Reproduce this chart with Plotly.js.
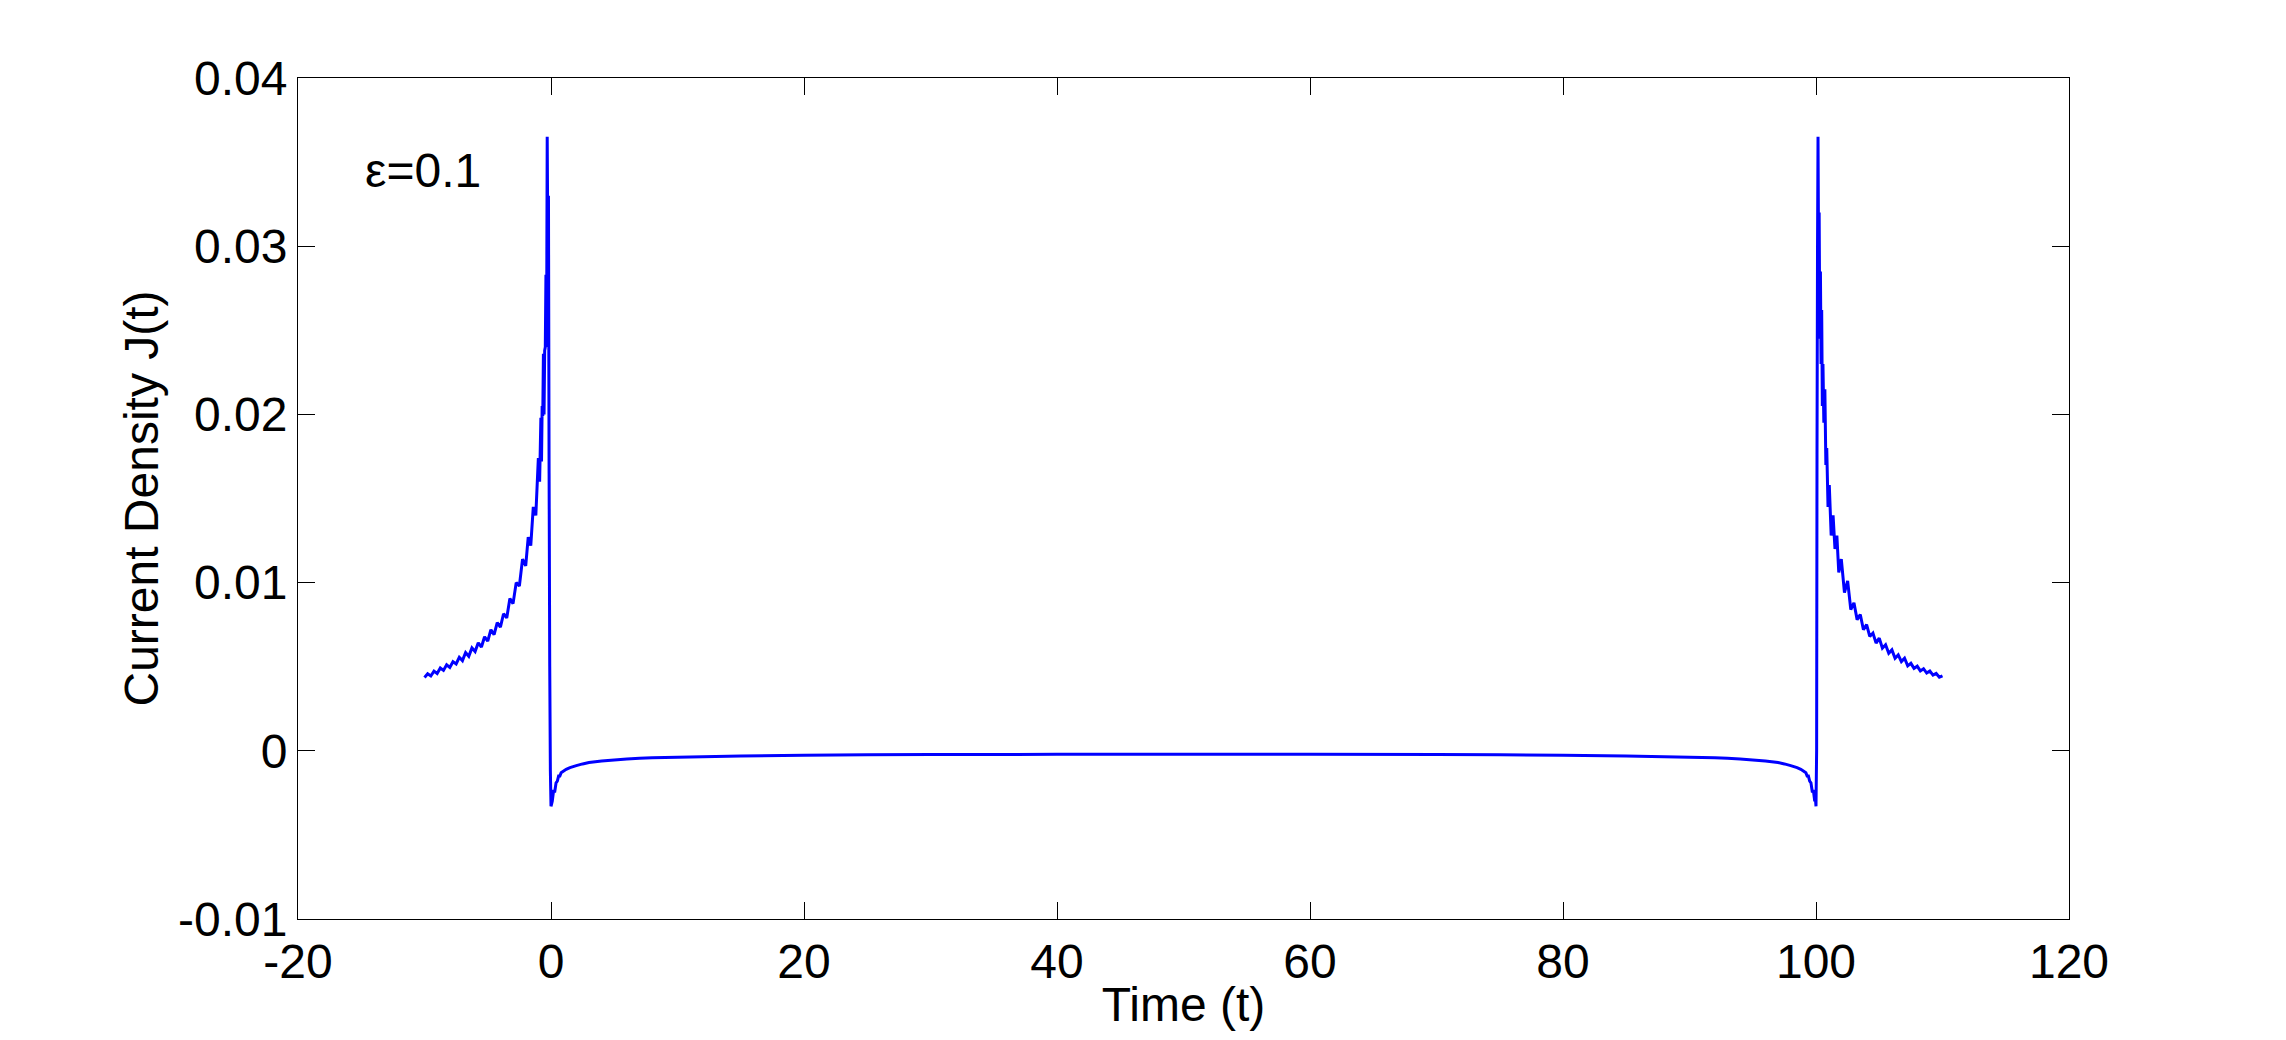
<!DOCTYPE html>
<html>
<head>
<meta charset="utf-8">
<script src="https://cdn.plot.ly/plotly-3.0.1.min.js"></script>
<style>
html,body{margin:0;padding:0;background:#fff;}
#chart{width:2286px;height:1040px;}
</style>
</head>
<body>
<div id="chart"></div>
<script>
// Left branch (t < 0): rising jagged tail up to the spike near t = 0
const leftT = [-10.0,-9.75,-9.5,-9.25,-9.0,-8.75,-8.5,-8.25,-8.0,-7.75,-7.5,-7.25,-7.0,-6.75,-6.5,-6.25,-6.0,-5.75,-5.5,-5.25,-5.0,-4.75,-4.5,-4.25,-4.0,-3.75,-3.5,-3.25,-3.0,-2.75,-2.5,-2.25,-2.0,-1.8,-1.6,-1.4,-1.2,-1.0,-0.9,-0.8,-0.75,-0.7,-0.65,-0.6,-0.55,-0.5,-0.45,-0.4,-0.35,-0.3,-0.25,-0.2,-0.15,-0.1,-0.05,0.0];
const leftJ = [0.00436,0.00458,0.00445,0.00474,0.00460,0.00492,0.00478,0.00511,0.00496,0.00530,0.00516,0.00556,0.00536,0.00584,0.00562,0.00612,0.00590,0.00642,0.00617,0.00678,0.00652,0.00720,0.00690,0.00762,0.00735,0.00815,0.00790,0.00905,0.00875,0.01000,0.00980,0.01140,0.01100,0.01270,0.01220,0.01450,0.01400,0.01740,0.01600,0.01980,0.01720,0.02050,0.01990,0.02360,0.02000,0.02380,0.02400,0.02830,0.02400,0.03650,0.03000,0.03300,0.01650,0.00500,-0.00120,-0.00330];

// Middle section: small negative current between the two spikes
const midT = [0.1,0.2,0.3,0.4,0.5,0.6,0.7,0.8,1.0,1.2,1.5,2.0,2.5,3.0,3.5,4,5,6,7,8,10,12,15,20,25,30,40,50,60,70,75,80,85,88,90,92,93,94,95,96,96.5,97,97.5,98,98.5,98.8,99.0,99.2,99.3,99.4,99.5,99.6,99.7,99.8,99.9,99.95];
const midJ = [-0.0030,-0.0024,-0.0024,-0.0019,-0.0018,-0.0015,-0.0015,-0.0013,-0.0012,-0.0011,-0.0010,-0.00088,-0.00078,-0.00070,-0.00065,-0.00060,-0.00054,-0.00049,-0.00045,-0.00042,-0.00038,-0.00035,-0.00031,-0.00026,-0.00024,-0.00022,-0.00021,-0.00020,-0.00021,-0.00022,-0.00024,-0.00026,-0.00031,-0.00035,-0.00038,-0.00042,-0.00045,-0.00049,-0.00054,-0.00060,-0.00065,-0.00070,-0.00078,-0.00088,-0.0010,-0.0011,-0.0012,-0.0013,-0.0015,-0.0015,-0.0018,-0.0019,-0.0024,-0.0024,-0.0030,-0.0028];

// Right branch (t >= 100): spike near t = 100 and decaying jagged tail
const rightT = [100.0,100.05,100.08,100.12,100.16,100.2,100.25,100.3,100.35,100.4,100.45,100.5,100.55,100.62,100.7,100.78,100.85,100.95,101.05,101.2,101.35,101.5,101.65,101.8,102.0,102.25,102.5,102.75,103.0,103.25,103.5,103.75,104.0,104.25,104.5,104.75,105.0,105.25,105.5,105.75,106.0,106.25,106.5,106.75,107.0,107.25,107.5,107.75,108.0,108.25,108.5,108.75,109.0,109.25,109.5,109.75,110.0];
const rightJ = [-0.0033,0.0000,0.0176,0.0300,0.0365,0.0300,0.0320,0.0245,0.0285,0.0230,0.0262,0.0205,0.0230,0.0195,0.0215,0.0170,0.0180,0.0145,0.0158,0.0128,0.0140,0.0120,0.0128,0.0106,0.0114,0.0094,0.0101,0.0084,0.0088,0.0078,0.0081,0.0072,0.0075,0.0068,0.0070,0.0064,0.0067,0.0061,0.0063,0.0058,0.0060,0.0055,0.0057,0.0053,0.0055,0.00505,0.0052,0.00490,0.00503,0.00475,0.00488,0.00462,0.00474,0.00450,0.00460,0.00438,0.00446];

// Axis ticks and labels
const xTickVals = [-20,0,20,40,60,80,100,120];
const xTickText = ['-20','0','20','40','60','80','100','120'];
const yTickVals = [-0.01,0,0.01,0.02,0.03,0.04];
const yTickText = ['-0.01','0','0.01','0.02','0.03','0.04'];

const xTitle = 'Time (t)';
const yTitle = 'Current Density J(t)';
const noteText = 'ε=0.1';

const tAll = leftT.concat(midT, rightT);
const jAll = leftJ.concat(midJ, rightJ);

const FONT = 'Liberation Sans, Arial, Helvetica, sans-serif';

const trace = {
  x: tAll, y: jAll, type: 'scatter', mode: 'lines',
  line: {color: '#0000FF', width: 3, simplify: false},
  hoverinfo: 'skip', showlegend: false
};

const axisCommon = {
  showgrid: false, zeroline: false, showline: true, linecolor: '#000', linewidth: 1,
  mirror: 'ticks', ticks: 'inside', ticklen: 17, tickwidth: 1, tickcolor: '#000',
  tickfont: {family: FONT, size: 48, color: '#000'}, tickmode: 'array'
};

const layout = {
  width: 2286, height: 1040,
  margin: {l: 298, r: 217, t: 78, b: 121, pad: 0},
  paper_bgcolor: '#fff', plot_bgcolor: '#fff',
  font: {family: FONT, size: 48, color: '#000'},
  xaxis: Object.assign({}, axisCommon, {
    range: [-20, 120], tickvals: xTickVals, ticktext: xTickText,
    title: {text: xTitle, font: {family: FONT, size: 48, color: '#000'}, standoff: 0}
  }),
  yaxis: Object.assign({}, axisCommon, {
    range: [-0.01, 0.04], tickvals: yTickVals, ticktext: yTickText,
    title: {text: yTitle, font: {family: FONT, size: 48, color: '#000'}, standoff: 4}
  }),
  annotations: [{
    x: -14.9, y: 0.0345, xref: 'x', yref: 'y', xanchor: 'left', yanchor: 'middle',
    text: noteText, showarrow: false, font: {family: FONT, size: 48, color: '#000'}
  }]
};

Plotly.newPlot('chart', [trace], layout, {displayModeBar: false, staticPlot: true});
</script>
</body>
</html>
